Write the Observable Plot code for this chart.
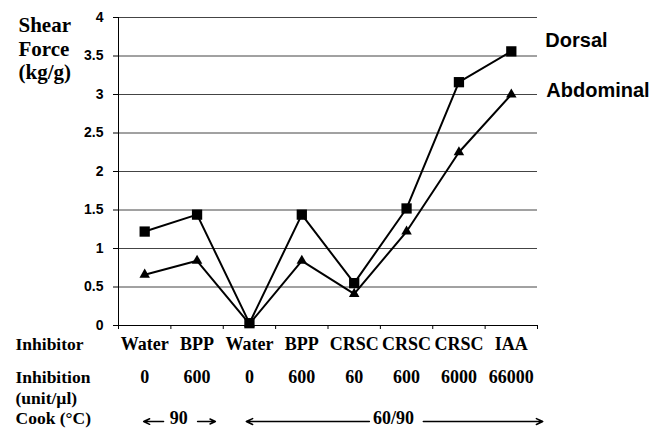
<!DOCTYPE html>
<html>
<head>
<meta charset="utf-8">
<script src="https://cdn.jsdelivr.net/npm/d3@7"></script>
<script src="https://cdn.jsdelivr.net/npm/@observablehq/plot@0.6"></script>
<style>
  html, body { margin: 0; padding: 0; background: white; }
  svg { display: block; }
</style>
</head>
<body>
<div id="chart"></div>
<script>
// ---- data ----
const categories = ["Water", "BPP", "Water", "BPP", "CRSC", "CRSC", "CRSC", "IAA"];
const inhibition = ["0", "600", "0", "600", "60", "600", "6000", "66000"];
const dorsal = [1.22, 1.44, 0.03, 1.44, 0.55, 1.52, 3.16, 3.56];
const abdominal = [0.66, 0.84, 0.02, 0.84, 0.41, 1.22, 2.25, 3.0];
const yTicks = [0, 0.5, 1, 1.5, 2, 2.5, 3, 3.5, 4];
const rowLabels = ["Inhibitor", "Inhibition", "(unit/µl)", "Cook (°C)"];
const rowOffsets = [24.3, 57.6, 78.2, 98.6];
const seriesNames = ["Dorsal", "Abdominal"];
const cookLabels = ["90", "60/90"];
const cookLabelPos = [1.15, 5.25];
const cookArrowFrom = [0.86, 1.51, 4.79, 5.82];
const cookArrowTo = [0.48, 1.85, 2.44, 8.1];

// ---- derived tables ----
const pos = categories.map((c, i) => i + 0.5);
const dData = dorsal.map((v, i) => ({x: pos[i], y: v}));
const aData = abdominal.map((v, i) => ({x: pos[i], y: v}));
const catData = categories.map((c, i) => ({x: pos[i], label: c, inh: inhibition[i]}));
const arrows = cookArrowFrom.map((f, i) => ({x1: f, x2: cookArrowTo[i]}));
const cookText = cookLabels.map((l, i) => ({x: cookLabelPos[i], label: l}));
const serif = "Liberation Serif, Times New Roman, serif";
const sans = "Liberation Sans, Arial, sans-serif";
const cookY = -1.247;
const rowFont = {fontFamily: serif, fontSize: 18, fontWeight: "bold"};
const labelFont = {fontFamily: serif, fontSize: 17.5, fontWeight: "bold"};

const chart = Plot.plot({
  width: 670,
  height: 428,
  marginLeft: 118,
  marginRight: 133,
  marginTop: 17,
  marginBottom: 103,
  style: {fontFamily: sans, fontSize: "14px", fontWeight: "bold", background: "white", color: "black", overflow: "visible"},
  x: {domain: [0, 8], ticks: d3.range(0, 9), tickFormat: () => "", tickSize: 4, label: null},
  y: {domain: [0, 4], ticks: yTicks, tickFormat: d => String(d), tickSize: 5, tickPadding: 10, label: null},
  marks: [
    Plot.ruleY(yTicks.filter(d => d > 0), {stroke: "#444", strokeWidth: 1}),
    Plot.ruleX([0], {stroke: "black", strokeWidth: 1}),
    Plot.ruleY([0], {stroke: "black", strokeWidth: 1}),
    Plot.line(aData, {x: "x", y: "y", stroke: "black", strokeWidth: 2}),
    Plot.line(dData, {x: "x", y: "y", stroke: "black", strokeWidth: 2}),
    Plot.dot(aData, {x: "x", y: "y", symbol: "triangle", r: 3.9, fill: "black", stroke: "none"}),
    Plot.dot(dData, {x: "x", y: "y", symbol: "square", r: 5.8, fill: "black", stroke: "none"}),
    // series labels
    Plot.text([dData[dData.length - 1]], {x: "x", y: "y", text: () => seriesNames[0], dx: 34, dy: -10.5, textAnchor: "start", fontFamily: sans, fontSize: 20, fontWeight: "bold"}),
    Plot.text([aData[aData.length - 1]], {x: "x", y: "y", text: () => seriesNames[1], dx: 35, dy: -3.5, textAnchor: "start", fontFamily: sans, fontSize: 20, fontWeight: "bold"}),
    // y-axis title
    Plot.text(["Shear\nForce\n(kg/g)"], {frameAnchor: "top-left", dx: -100, dy: -2, textAnchor: "start", lineAnchor: "top", lineHeight: 1.12, fontFamily: serif, fontSize: 21, fontWeight: "bold"}),
    // row labels
    ...rowLabels.map((l, i) => Plot.text([l], {frameAnchor: "bottom-left", dx: -103, dy: rowOffsets[i], textAnchor: "start", ...labelFont})),
    // category rows
    Plot.text(catData, {x: "x", frameAnchor: "bottom", text: "label", dy: rowOffsets[0], ...rowFont}),
    Plot.text(catData, {x: "x", frameAnchor: "bottom", text: "inh", dy: rowOffsets[1], ...rowFont}),
    // cook row
    Plot.text(cookText, {x: "x", frameAnchor: "bottom", text: "label", dy: rowOffsets[3], ...rowFont}),
    Plot.arrow(arrows, {x1: "x1", x2: "x2", y1: () => cookY, y2: () => cookY, stroke: "black", strokeWidth: 1.5, headLength: 7, headAngle: 50})
  ]
});
document.getElementById("chart").appendChild(chart);
</script>
</body>
</html>
